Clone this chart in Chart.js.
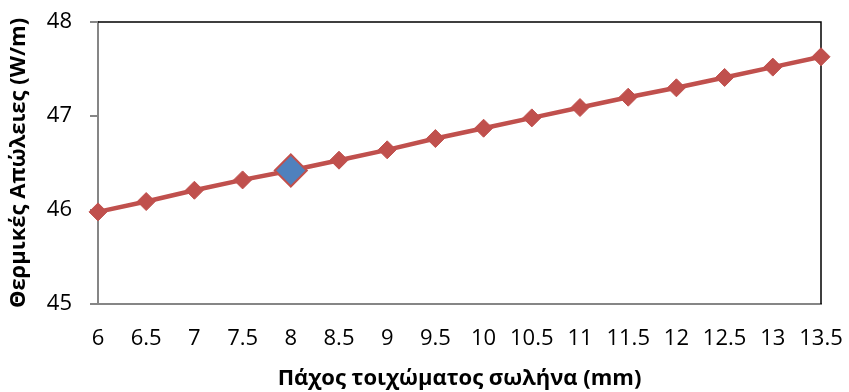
<!DOCTYPE html>
<html>
<head>
<meta charset="utf-8">
<script src="https://cdn.jsdelivr.net/npm/chart.js@4"></script>
<style>
html,body{margin:0;padding:0;background:#fff;}
#wrap{width:849px;height:392px;position:relative;}
</style>
</head>
<body>
<div id="wrap"><canvas id="c" width="849" height="392"></canvas></div>
<script>
const categories = ["6","6.5","7","7.5","8","8.5","9","9.5","10","10.5","11","11.5","12","12.5","13","13.5"];
const heatLoss = [45.98,46.09,46.21,46.32,46.42,46.53,46.64,46.76,46.87,46.98,47.09,47.20,47.30,47.41,47.52,47.63];
const highlightIndex = 4;
const yTicks = [45,46,47,48];
const xTitle = "Πάχος τοιχώματος σωλήνα (mm)";
const yTitle = "Θερμικές Απώλειες (W/m)";

const RED = "#C0504D";
const BLUE = "#4F81BD";
const AXIS = "#868686";
const FONT = "'Open Sans', sans-serif";

const borderPlugin = {
  id: 'borderPlugin',
  beforeDatasetsDraw(chart) {
    const {ctx, chartArea: a} = chart;
    ctx.save();
    ctx.strokeStyle = '#000';
    ctx.lineWidth = 1.5;
    ctx.beginPath();
    ctx.moveTo(a.left, a.top);
    ctx.lineTo(a.right, a.top);
    ctx.lineTo(a.right, a.bottom);
    ctx.stroke();
    ctx.restore();
  }
};

new Chart(document.getElementById('c'), {
  type: 'line',
  data: {
    labels: categories,
    datasets: [{
      data: heatLoss,
      borderColor: RED,
      borderWidth: 4.5,
      tension: 0,
      pointStyle: 'rectRot',
      pointRadius: heatLoss.map((v,i)=> i===highlightIndex ? 16 : 9),
      pointBorderWidth: heatLoss.map((v,i)=> i===highlightIndex ? 2 : 1),
      pointBackgroundColor: heatLoss.map((v,i)=> i===highlightIndex ? BLUE : RED),
      pointBorderColor: RED,
      clip: false
    }]
  },
  options: {
    responsive: false,
    animation: false,
    layout: {padding: {top: 22, right: 28, left: 0, bottom: 0}},
    plugins: {legend: {display: false}, tooltip: {enabled: false}},
    scales: {
      x: {
        type: 'category',
        offset: false,
        grid: {display: true, drawOnChartArea: false, drawTicks: false},
        border: {display: true, color: AXIS, width: 2},
        ticks: {color: '#000', font: {family: FONT, size: 22}, padding: 22, maxRotation: 0, autoSkip: false},
        title: {display: true, text: xTitle, color: '#000', font: {family: FONT, size: 22, weight: 'bold'}, padding: {top: 4, bottom: 0}},
        afterFit(s) { s.height = 88; s.paddingLeft = 0; s.paddingRight = 0; }
      },
      y: {
        min: 45, max: 48,
        afterBuildTicks(s) { s.ticks = yTicks.map(v => ({value: v})); },
        grid: {display: true, drawOnChartArea: false, drawTicks: true, tickLength: 8, color: AXIS, lineWidth: 2},
        border: {display: true, color: AXIS, width: 2},
        ticks: {color: '#000', font: {family: FONT, size: 22}, padding: 18},
        title: {display: true, text: yTitle, color: '#000', font: {family: FONT, size: 22, weight: 'bold'}, padding: {top: 6, bottom: 0}},
        afterFit(s) { s.width = 98; s.paddingTop = 0; s.paddingBottom = 0; }
      }
    }
  },
  plugins: [borderPlugin]
});
</script>
</body>
</html>
